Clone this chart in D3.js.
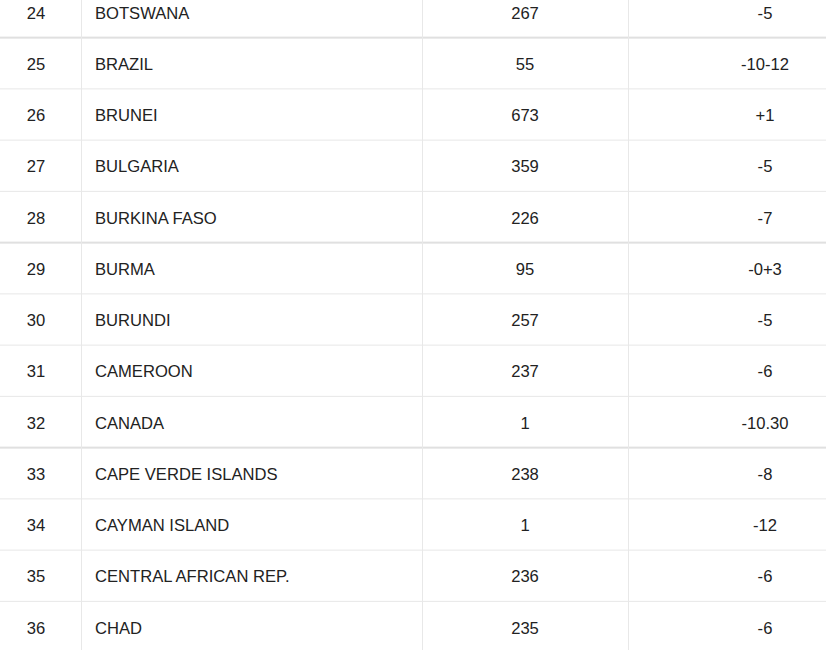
<!DOCTYPE html>
<html><head><meta charset="utf-8">
<script src="https://cdn.jsdelivr.net/npm/d3@7"></script>
<style>body{margin:0;background:#fff}svg{display:block}</style>
</head><body><svg id="c" width="826" height="650"></svg>
<script>
const ranks = [24,25,26,27,28,29,30,31,32,33,34,35,36];
const countries = ["BOTSWANA","BRAZIL","BRUNEI","BULGARIA","BURKINA FASO","BURMA","BURUNDI","CAMEROON","CANADA","CAPE VERDE ISLANDS","CAYMAN ISLAND","CENTRAL AFRICAN REP.","CHAD"];
const codes = ["267","55","673","359","226","95","257","237","1","238","1","236","235"];
const offsets = ["-5","-10-12","+1","-5","-7","-0+3","-5","-6","-10.30","-8","-12","-6","-6"];

const svg = d3.select("#c");
const pitch = 51.25, top0 = 12 - pitch/2;
const y = d3.scaleLinear().domain([0,1]).range([top0, top0+pitch]);
const rows = ranks.map((r,i)=>({r, c:countries[i], code:codes[i], off:offsets[i], i}));

rows.forEach(d=>{
  const yb = y(d.i+1);
  const thick = d.i % 4 === 0;
  svg.append("rect").attr("x",0).attr("width",826)
    .attr("y", thick? yb-1 : yb-0.5).attr("height", thick?2:1)
    .attr("fill", thick?"#e0e0e0":"#e8e8e8");
});
[81,422,628].forEach(x=>svg.append("rect").attr("x",x).attr("y",0).attr("width",1).attr("height",650).attr("fill","#e8e8e8"));

const g = svg.selectAll("g.row").data(rows).join("g")
  .attr("transform", d=>`translate(0,${y(d.i)+pitch/2+0.7})`)
  .style("font-family","'Liberation Sans', Arial, sans-serif").style("font-size","16.6px").attr("fill","#222");
g.append("text").attr("x",36).attr("dy","0.35em").attr("text-anchor","middle").text(d=>d.r);
g.append("text").attr("x",95).attr("dy","0.35em").text(d=>d.c);
g.append("text").attr("x",525).attr("dy","0.35em").attr("text-anchor","middle").text(d=>d.code);
g.append("text").attr("x",765).attr("dy","0.35em").attr("text-anchor","middle").text(d=>d.off);
</script></body></html>
